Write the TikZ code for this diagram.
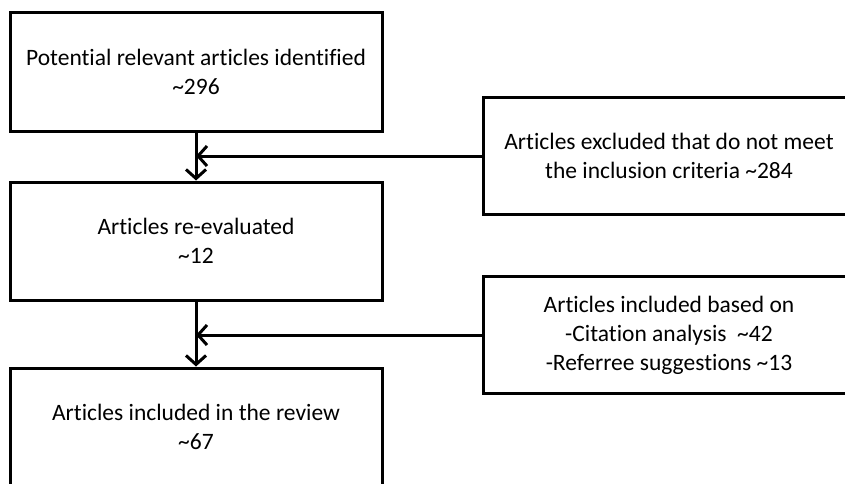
\documentclass[tikz,border=0pt]{standalone}
\usepackage{fontspec}
\setmainfont{Carlito}[Ligatures=NoCommon]
\usetikzlibrary{arrows.meta, positioning}
\tikzstyle{stage} = [rectangle, minimum width=372pt, minimum height=118pt, align=center, draw=black, line width=3pt, font=\fontsize{23.5}{29}\selectfont]
\tikzstyle{side} = [stage, minimum width=372pt, minimum height=117pt]
\tikzstyle{arrow} = [line width=3pt, -{Straight Barb[length=9pt,width=20pt]}]

\begin{document}
\begin{tikzpicture}[x=1pt, y=1pt]

            \useasboundingbox (0,0) rectangle (845,483);
            \clip (0,0) rectangle (845,483);

            % Place nodes
            \node (found) [stage] at (196,411) {Potential relevant articles identified\\ \textasciitilde296};
            \node (reeval) [stage, below of=found, node distance=169pt] {Articles re-evaluated\\ \textasciitilde12};
            \node (review) [stage, below of=reeval, node distance=186pt] {Articles included in the review\\ \textasciitilde67};
            \node (excluded) [side] at (669,327) {Articles excluded that do not meet\\ the inclusion criteria \textasciitilde284};
            \node (added) [side] at (669,148) {Articles included based on\\ -Citation analysis \ \textasciitilde42\\ -Referree suggestions \textasciitilde13};

            % Draw edges
            \draw [arrow] (found) -- (reeval);
            \draw [arrow] (reeval) -- (review);
            \draw [arrow] (excluded.west) -- (excluded.west -| found.south);
            \draw [arrow] (added.west) -- (added.west -| reeval.south);
        \end{tikzpicture}
\end{document}
